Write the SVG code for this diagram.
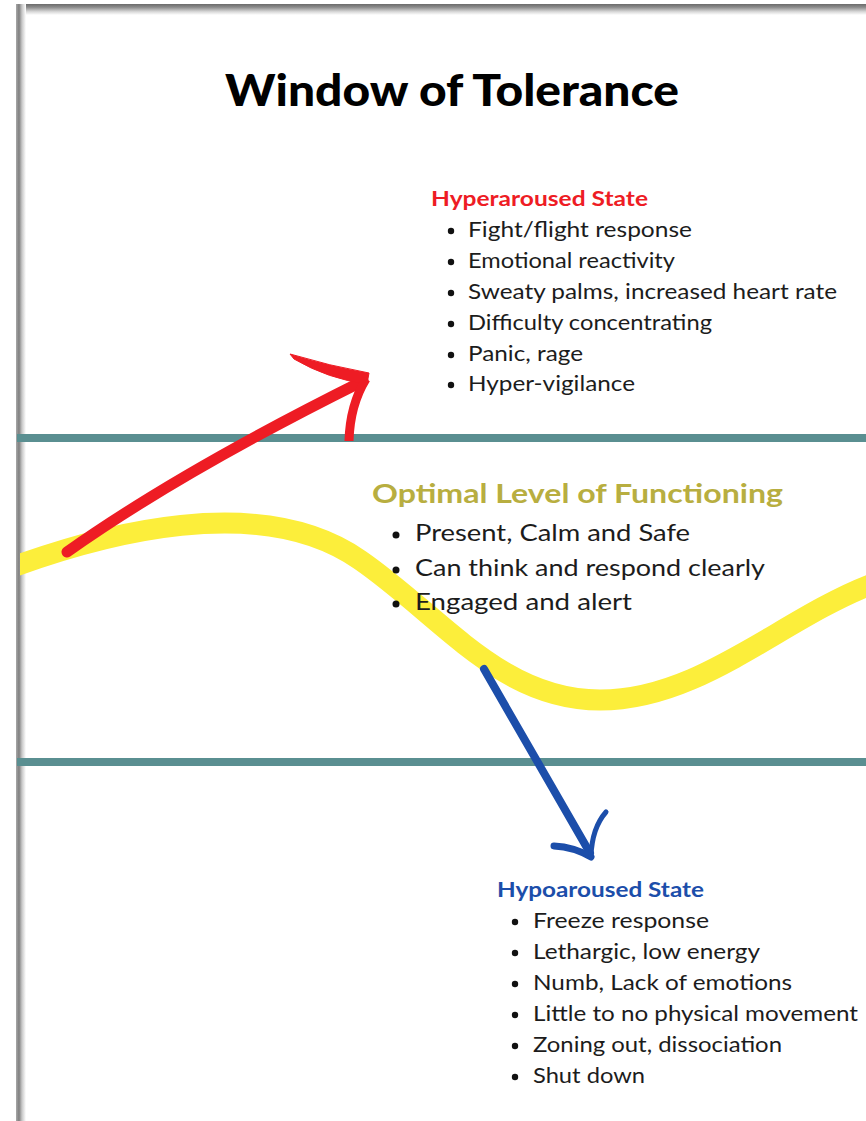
<svg xmlns="http://www.w3.org/2000/svg" width="866" height="1121" viewBox="0 0 866 1121">
  <style>
    .title { font-family: Lato, "Liberation Sans", sans-serif; font-weight: 900; font-size: 44px; fill: #000; }
    .head { font-family: Lato, "Liberation Sans", sans-serif; font-weight: bold; }
    .body { font-family: Lato, "Open Sans", "Liberation Sans", sans-serif; fill: #1c1c1c; }
    .bullet { fill: #111; }
    .teal { fill: #5a8f91; }
    .red { fill: #ee1c24; stroke: #ee1c24; }
    .blue { fill: none; stroke: #1c4eaa; stroke-linecap: round; }
  </style>
  <defs>
    <linearGradient id="shL" x1="0" y1="0" x2="1" y2="0">
      <stop offset="0" stop-color="#a8a8a8"/>
      <stop offset="0.3" stop-color="#7f7f7f"/>
      <stop offset="0.6" stop-color="#c8c8c8"/>
      <stop offset="1" stop-color="#ffffff"/>
    </linearGradient>
    <linearGradient id="shT" x1="0" y1="0" x2="0" y2="1">
      <stop offset="0" stop-color="#6a6a6a"/>
      <stop offset="0.3" stop-color="#8c8c8c"/>
      <stop offset="0.7" stop-color="#d8d8d8"/>
      <stop offset="1" stop-color="#ffffff"/>
    </linearGradient>
    <clipPath id="pageClip">
      <rect x="20" y="0" width="846" height="1121"/>
    </clipPath>
  </defs>
  <rect x="0" y="0" width="866" height="1121" fill="#ffffff"/>

  <g id="page-shadow">
    <rect x="16" y="4" width="850" height="11" fill="url(#shT)"/>
    <rect x="16" y="4" width="10" height="1117" fill="url(#shL)"/>
  </g>

  <g id="title">
    <text class="title" x="225" y="106" textLength="454" lengthAdjust="spacingAndGlyphs">Window of Tolerance</text>
  </g>

  <g id="curve" clip-path="url(#pageClip)">
    <path d="M 10 568 C 100 535, 260 490, 360 560 C 440 615, 500 700, 600 700 C 700 700, 780 620, 870 585" fill="none" stroke="#fcee3b" stroke-width="21"/>
  </g>

  <g id="window-lines">
    <rect class="teal" x="17" y="434" width="849" height="8"/>
    <rect class="teal" x="17" y="758" width="849" height="8"/>
  </g>

  <g id="connectors">
    <g id="red-arrow">
      <path d="M 67 552 Q 180 472 363 381" fill="none" stroke="#ee1c24" stroke-width="11" stroke-linecap="round"/>
      <path class="red" stroke-width="1" d="M 290 354 Q 330 366 369 373 L 367 384 Q 328 379 294 359 Z"/>
      <path d="M 366 379 Q 350 405 349 441" fill="none" stroke="#ee1c24" stroke-width="9"/>
    </g>
    <g id="blue-arrow">
      <path class="blue" d="M 484 669 L 590 853" stroke-width="8"/>
      <path class="blue" d="M 554 846 Q 574 847 591 857" stroke-width="7"/>
      <path class="blue" d="M 591 856 Q 592 828 606 812" stroke-width="5"/>
    </g>
  </g>

  <g id="hyperaroused">
    <text class="head" x="431" y="206" font-size="21" fill="#ee1c24" textLength="217" lengthAdjust="spacingAndGlyphs">Hyperaroused State</text>
    <g class="bullet">
      <circle cx="451" cy="231" r="3.2"/>
      <circle cx="451" cy="262" r="3.2"/>
      <circle cx="451" cy="293" r="3.2"/>
      <circle cx="451" cy="324" r="3.2"/>
      <circle cx="451" cy="355" r="3.2"/>
      <circle cx="451" cy="385" r="3.2"/>
    </g>
    <g class="body" font-size="21">
      <text x="468" y="237" textLength="224" lengthAdjust="spacingAndGlyphs">Fight/flight response</text>
      <text x="468" y="268" textLength="207" lengthAdjust="spacingAndGlyphs">Emotional reactivity</text>
      <text x="468" y="299" textLength="369" lengthAdjust="spacingAndGlyphs">Sweaty palms, increased heart rate</text>
      <text x="468" y="330" textLength="244" lengthAdjust="spacingAndGlyphs">Difficulty concentrating</text>
      <text x="468" y="361" textLength="115" lengthAdjust="spacingAndGlyphs">Panic, rage</text>
      <text x="468" y="391" textLength="167" lengthAdjust="spacingAndGlyphs">Hyper-vigilance</text>
    </g>
  </g>

  <g id="optimal">
    <text class="head" x="372" y="503" font-size="27" fill="#b8ae40" textLength="411" lengthAdjust="spacingAndGlyphs">Optimal Level of Functioning</text>
    <g class="bullet">
      <circle cx="396" cy="535" r="3.5"/>
      <circle cx="396" cy="570" r="3.5"/>
      <circle cx="396" cy="604" r="3.5"/>
    </g>
    <g class="body" font-size="23">
      <text x="415" y="541" textLength="275" lengthAdjust="spacingAndGlyphs">Present, Calm and Safe</text>
      <text x="415" y="576" textLength="350" lengthAdjust="spacingAndGlyphs">Can think and respond clearly</text>
      <text x="415" y="610" textLength="217" lengthAdjust="spacingAndGlyphs">Engaged and alert</text>
    </g>
  </g>

  <g id="hypoaroused">
    <text class="head" x="497" y="897" font-size="21" fill="#1c4eaa" textLength="207" lengthAdjust="spacingAndGlyphs">Hypoaroused State</text>
    <g class="bullet">
      <circle cx="515" cy="922" r="3.2"/>
      <circle cx="515" cy="953" r="3.2"/>
      <circle cx="515" cy="984" r="3.2"/>
      <circle cx="515" cy="1015" r="3.2"/>
      <circle cx="515" cy="1046" r="3.2"/>
      <circle cx="515" cy="1077" r="3.2"/>
    </g>
    <g class="body" font-size="21">
      <text x="533" y="928" textLength="176" lengthAdjust="spacingAndGlyphs">Freeze response</text>
      <text x="533" y="959" textLength="227" lengthAdjust="spacingAndGlyphs">Lethargic, low energy</text>
      <text x="533" y="990" textLength="259" lengthAdjust="spacingAndGlyphs">Numb, Lack of emotions</text>
      <text x="533" y="1021" textLength="325" lengthAdjust="spacingAndGlyphs">Little to no physical movement</text>
      <text x="533" y="1052" textLength="249" lengthAdjust="spacingAndGlyphs">Zoning out, dissociation</text>
      <text x="533" y="1083" textLength="112" lengthAdjust="spacingAndGlyphs">Shut down</text>
    </g>
  </g>
</svg>
